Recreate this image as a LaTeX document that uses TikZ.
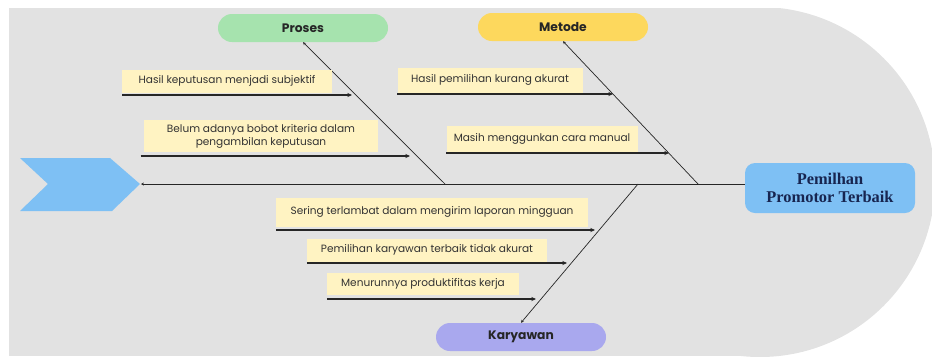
\documentclass[tikz,border=0pt]{standalone}
\usepackage{fontspec}
\setmainfont{Poppins}
\newfontfamily\headfont{Liberation Serif}
\usetikzlibrary{positioning, calc, arrows.meta}

\definecolor{bggray}{HTML}{E2E2E2}
\definecolor{chevblue}{HTML}{7EC0F4}
\definecolor{prosesgreen}{HTML}{A6E3AE}
\definecolor{metodegold}{HTML}{FDD85D}
\definecolor{karyalilac}{HTML}{A9A8EE}
\definecolor{causecream}{HTML}{FFF3C2}
\definecolor{headnavy}{HTML}{172550}

\tikzset{
  category/.style={fill=#1, rounded corners=0.42cm, minimum width=5.1cm, minimum height=0.84cm,
    font=\fontsize{10.5}{12}\selectfont\bfseries, text=black!85},
  cause/.style={fill=causecream, inner sep=0pt, align=center,
    font=\fontsize{9}{11}\selectfont, text=black!80},
  causearrow/.style={draw=black!85, line width=0.9pt, -{Stealth[length=4pt,width=3.5pt]}},
  bone/.style={draw=black!85, line width=0.6pt, -{Stealth[length=2.5pt,width=2.5pt]}}
}

\begin{document}
\begin{tikzpicture}[x=0.03cm, y=-0.03cm]
\useasboundingbox (0,0) rectangle (932,356);
\begin{scope}
  \clip (9,8) rectangle (932,356);
  \fill[bggray] (9,8) rectangle (760,356);
  \fill[bggray] (760,182) circle[radius=5.25cm];
\end{scope}

\fill[chevblue] (20,158) -- (110,158) -- (140,184) -- (112,211) -- (20,211) -- (48,184) -- cycle;
\coordinate (tail) at (141,184);

\node[fill=chevblue, rounded corners=0.3cm, minimum width=5.1cm, minimum height=1.5cm,
  align=center, text=headnavy, font=\headfont\bfseries\fontsize{14}{16}\selectfont]
  (head) at (830,188) {Pemilhan\\Promotor Terbaik};

\node[category=prosesgreen] (proses) at (303,28) {Proses};
\node[category=metodegold] (metode) at (563,27) {Metode};
\node[category=karyalilac] (karyawan) at (521,337) {Karyawan};

\coordinate (pA) at (445,184);
\coordinate (mA) at (698,184);
\coordinate (kA) at (638,184);

\draw[bone] (head.west |- tail) -- (tail);
\draw[bone] (pA) -- (proses.south);
\draw[bone] (mA) -- (metode.south);
\draw[bone] (kA) -- (karyawan.north);

\node[cause, minimum width=6.27cm, minimum height=0.69cm] (c1) at (227,81) {Hasil keputusan menjadi subjektif};
\node[cause, minimum width=6.99cm, minimum height=0.96cm] (c2) at (261,136) {Belum adanya bobot kriteria dalam\\pengambilan keputusan};
\node[cause, minimum width=5.55cm, minimum height=0.75cm] (m1) at (490,80) {Hasil pemilihan kurang akurat};
\node[cause, minimum width=5.73cm, minimum height=0.78cm] (m2) at (542,139) {Masih menggunkan cara manual};
\node[cause, minimum width=9.36cm, minimum height=0.87cm] (k1) at (432,212) {Sering terlambat dalam mengirim laporan mingguan};
\node[cause, minimum width=7.2cm, minimum height=0.69cm] (k2) at (427,250) {Pemilihan karyawan terbaik tidak akurat};
\node[cause, minimum width=5.76cm, minimum height=0.66cm] (k3) at (423,284) {Menurunnya produktifitas kerja};

\coordinate (c1e) at (352,95);
\coordinate (c2e) at (410,156);
\coordinate (m1e) at (613,94);
\coordinate (m2e) at (669,153);
\coordinate (k1e) at (595,230);
\coordinate (k2e) at (567,263);
\coordinate (k3e) at (536,299);

\draw[causearrow] (c1.south west |- c1e) -- (c1e);
\draw[causearrow] ([xshift=-3]c2.south west |- c2e) -- (c2e);
\draw[causearrow] (m1.south west |- m1e) -- (m1e);
\draw[causearrow] (m2.south west |- m2e) -- (m2e);
\draw[causearrow] (k1.south west |- k1e) -- (k1e);
\draw[causearrow] (k2.south west |- k2e) -- (k2e);
\draw[causearrow] (k3.south west |- k3e) -- (k3e);
\end{tikzpicture}
\end{document}
